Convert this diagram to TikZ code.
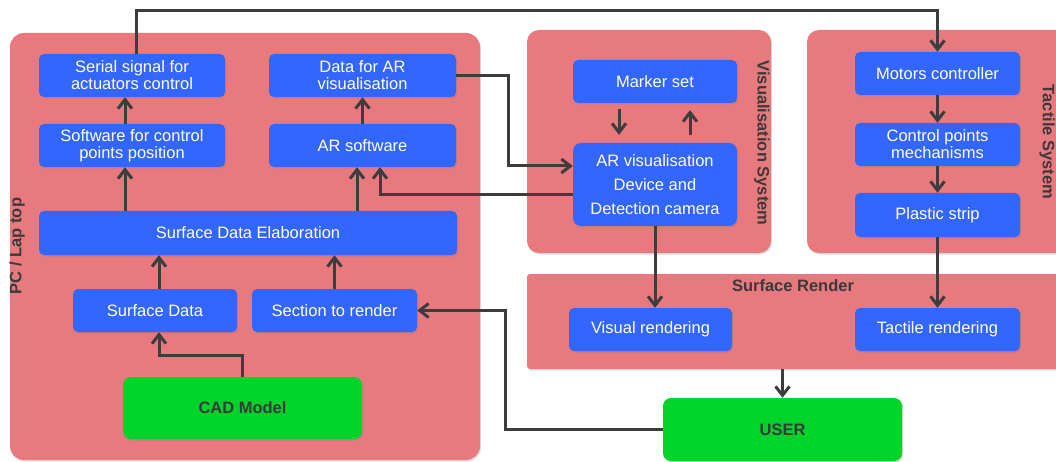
\documentclass[tikz,border=0pt]{standalone}
\usepackage{fontspec}
\setmainfont{Liberation Sans}
\usetikzlibrary{arrows.meta,shadows,calc}
\definecolor{pinkbg}{HTML}{E8797E}
\definecolor{bluebox}{HTML}{3366FF}
\definecolor{greenbox}{HTML}{00D42B}
\definecolor{linec}{HTML}{3D3D3D}
\definecolor{labelc}{HTML}{3A3A3A}
\begin{document}
\begin{tikzpicture}[x=1pt,y=-1pt,
  panel/.style={fill=pinkbg, inner sep=0pt, rounded corners=12pt,
    drop shadow={shadow xshift=1pt,shadow yshift=-1.5pt,opacity=0.25}},
  bbox/.style={fill=bluebox, text=white, rounded corners=5pt, align=center, inner sep=0pt,
    font=\fontsize{16.5}{17}\selectfont,
    drop shadow={shadow xshift=1.2pt,shadow yshift=-1.5pt,opacity=0.3}},
  gbox/.style={fill=greenbox, text=labelc, rounded corners=8pt, inner sep=0pt,
    font=\bfseries\fontsize{16.5}{18}\selectfont,
    drop shadow={shadow xshift=1.2pt,shadow yshift=-1.5pt,opacity=0.3}},
  lbl/.style={text=labelc, font=\bfseries\fontsize{16.5}{18}\selectfont, inner sep=0pt},
  conn/.style={draw=linec, line width=3pt},
  arr/.style={conn, -{Straight Barb[length=9pt,width=14pt]}}]
\useasboundingbox (0,0) rectangle (1056,462);
\clip (0,0) rectangle (1056,462);
\fill[white] (0,0) rectangle (1056,462);

% panels
\node[panel, minimum width=470, minimum height=427, rounded corners=14pt] (pc) at (245,246.5) {};
\node[panel, minimum width=244, minimum height=223] (vis) at (649,141.5) {};
\node[panel, minimum width=263, minimum height=223] (tac) at (938.5,141.5) {};
\node[panel, minimum width=543, minimum height=95, rounded corners=3pt] (render) at (798.5,321.5) {};

% labels
\node[lbl, rotate=90] (pclbl) at (17,246) {PC / Lap top};
\node[lbl, rotate=-90] (vislbl) at (762,143) {Visualisation System};
\node[lbl, rotate=-90] (taclbl) at (1047,142) {Tactile System};
\node[lbl] (renderlbl) at (793,286) {Surface Render};

% blue boxes
\node[bbox, minimum width=186, minimum height=43] (serial) at (132,75.5) {Serial signal for\\actuators control};
\node[bbox, minimum width=187, minimum height=43] (dataar) at (362.5,75.5) {Data for AR\\visualisation};
\node[bbox, minimum width=186, minimum height=43] (swctrl) at (132,145.5) {Software for control\\points position};
\node[bbox, minimum width=187, minimum height=43] (arsoft) at (362.5,145.5) {AR software};
\node[bbox, minimum width=418, minimum height=44] (sde) at (248,233) {Surface Data Elaboration};
\node[bbox, minimum width=164, minimum height=43] (surf) at (155,310.5) {Surface Data};
\node[bbox, minimum width=165, minimum height=43] (section) at (334.5,310.5) {Section to render};
\node[bbox, minimum width=164, minimum height=43] (marker) at (655,81.5) {Marker set};
\node[bbox, minimum width=164, minimum height=83, rounded corners=8pt,
  font=\fontsize{16.5}{24}\selectfont] (arvis) at (655,184.5) {AR visualisation\\Device and\\Detection camera};
\node[bbox, minimum width=165, minimum height=43] (motors) at (937.5,73.5) {Motors controller};
\node[bbox, minimum width=165, minimum height=43] (cpm) at (937.5,144.5) {Control points\\mechanisms};
\node[bbox, minimum width=165, minimum height=44] (plastic) at (937.5,215) {Plastic strip};
\node[bbox, minimum width=163, minimum height=43] (visual) at (650.5,329.5) {Visual rendering};
\node[bbox, minimum width=165, minimum height=43] (tactile) at (937.5,329.5) {Tactile rendering};

% green boxes
\node[gbox, minimum width=239, minimum height=62] (cad) at (242.5,408) {CAD Model};
\node[gbox, minimum width=239, minimum height=63] (user) at (782.5,429.5) {USER};

% helper coordinates
\coordinate (vx) at (508,0);
\coordinate (ux) at (505,0);
\coordinate (a1) at ([xshift=4pt]surf.north);
\coordinate (a2) at ([xshift=-7pt]swctrl.north);
\coordinate (a4) at ([xshift=-5.5pt]arsoft.south);

% connectors
\draw[arr] ([xshift=4pt]serial.north) -- ++(0,-43) -| (motors.north);
\draw[arr] (dataar.east) -- (dataar.east -| vx) |- ([yshift=18.5pt]arvis.west);
\draw[arr] ([yshift=-10.5pt]arvis.west) -| ([xshift=17.5pt]arsoft.south);
\draw[arr, shorten <=6pt, shorten >=8pt] ([xshift=-36pt]marker.south) -- ([xshift=-36pt]arvis.north);
\draw[arr, shorten <=8pt, shorten >=7pt] ([xshift=35pt]arvis.north) -- ([xshift=35pt]marker.south);
\draw[arr] (motors.south) -- (cpm.north);
\draw[arr] (cpm.south) -- (plastic.north);
\draw[arr] (arvis.south) -- (arvis.south |- visual.north);
\draw[arr] (plastic.south) -- (tactile.north);
\draw[arr] (render.south -| user.north) -- (user.north);
\draw[arr] (user.west) -- (user.west -| ux) |- (section.east);
\draw[arr] (cad.north) -- ++(0,-21) -| ([xshift=4pt]surf.south);
\draw[arr] (a1) -- (a1 |- sde.south);
\draw[arr] (section.north) -- (section.north |- sde.south);
\draw[arr] (a4 |- sde.north) -- (a4);
\draw[arr] (arsoft.north) -- (dataar.south);
\draw[arr] (a2 |- sde.north) -- (a2 |- swctrl.south);
\draw[arr] (a2) -- (a2 |- serial.south);
\end{tikzpicture}
\end{document}
